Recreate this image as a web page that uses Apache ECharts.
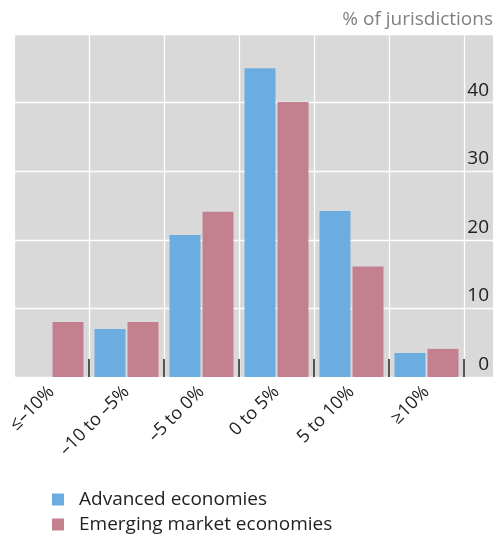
<!DOCTYPE html>
<html><head><meta charset="utf-8">
<script src="https://cdn.jsdelivr.net/npm/echarts@6/dist/echarts.min.js"></script>
<style>html,body{margin:0;padding:0;background:#fff}#c{width:504px;height:542px}</style>
</head><body><div id="c"></div>
<script>
var categories = ['≤–10%', '–10 to –5%', '–5 to 0%', '0 to 5%', '5 to 10%', '≥10%'];
var advanced = [0, 7.0, 20.7, 45.0, 24.2, 3.5];
var emerging = [8.0, 8.0, 24.1, 40.1, 16.1, 4.1];
var yTicks = [0, 10, 20, 30, 40, 50];
var seriesNames = ['Advanced economies', 'Emerging market economies'];
var unitLabel = '% of jurisdictions';

var font = 'Open Sans';
var chart = echarts.init(document.getElementById('c'), null, {renderer: 'canvas'});
chart.setOption({
  animation: false,
  textStyle: {fontFamily: font},
  title: {text: unitLabel, right: 6, top: 5, textStyle: {fontFamily: font, fontSize: 19, fontWeight: 'normal', color: '#808080'}},
  legend: {
    orient: 'vertical', left: 47, top: 485, itemWidth: 12, itemHeight: 12, itemGap: 6, icon: 'rect',
    textStyle: {fontFamily: font, fontSize: 19, color: '#222', padding: [0, 0, 0, 10]},
    data: seriesNames
  },
  grid: [
    {left: 14, top: 34, right: 40, bottom: 165, containLabel: false},
    {left: 14, top: 34, right: 11, bottom: 165, show: true, backgroundColor: '#d9d9d9', borderWidth: 0, z: 0}
  ],
  xAxis: [
    {type: 'category', gridIndex: 0, data: categories, boundaryGap: true,
     axisLine: {show: false},
     axisTick: {show: true, inside: true, length: 18, interval: function (i) { return i !== 0; }, lineStyle: {color: '#555', width: 2}},
     splitLine: {show: true, lineStyle: {color: '#fff', width: 1.3}},
     axisLabel: {rotate: 45, fontFamily: font, fontSize: 18, color: '#222', margin: 12, interval: 0},
     z: 3},
    {type: 'category', gridIndex: 1, data: categories, show: false}
  ],
  yAxis: [
    {type: 'value', gridIndex: 0, min: yTicks[0], max: yTicks[yTicks.length - 1], interval: 10, show: false,
     splitLine: {show: false}},
    {type: 'value', gridIndex: 1, position: 'right', min: yTicks[0], max: yTicks[yTicks.length - 1], interval: 10,
     axisLine: {show: false}, axisTick: {show: false},
     splitLine: {show: true, lineStyle: {color: '#fff', width: 1.3}},
     axisLabel: {inside: true, margin: 4, verticalAlign: 'bottom', padding: [0, 0, 3, 0], fontFamily: font, fontSize: 19, color: '#222',
       formatter: function (v) { return v === 50 ? '' : String(v); }},
     z: 1}
  ],
  series: [
    {name: seriesNames[0], type: 'bar', xAxisIndex: 0, yAxisIndex: 0, data: advanced, barWidth: 31, barGap: '6.5%',
     itemStyle: {color: '#6badE0'}, z: 2},
    {name: seriesNames[1], type: 'bar', xAxisIndex: 0, yAxisIndex: 0, data: emerging, barWidth: 31, barGap: '6.5%',
     itemStyle: {color: '#c3808f'}, z: 2}
  ]
});
</script></body></html>
